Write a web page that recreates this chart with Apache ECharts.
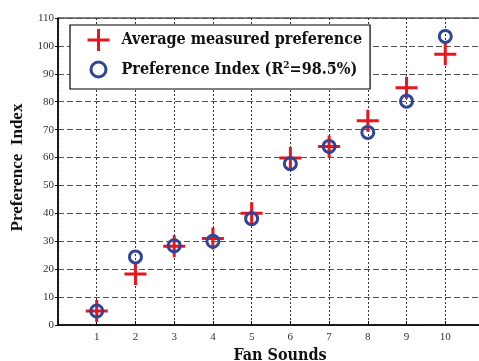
<!DOCTYPE html>
<html>
<head>
<meta charset="utf-8">
<script src="https://cdn.jsdelivr.net/npm/echarts@6/dist/echarts.min.js"></script>
<style>
  html, body { margin: 0; padding: 0; background: #fff; }
  #chart { width: 479px; height: 361px; }
</style>
</head>
<body>
<div id="chart"></div>
<script>
// Fan sounds 1..10
const fanSounds = [1, 2, 3, 4, 5, 6, 7, 8, 9, 10];
// Average measured preference per sound
const measured = [5, 18.3, 28.2, 31, 40, 59.8, 64, 73.2, 85, 97];
// Modelled preference index per sound
const prefIndex = [5, 24.4, 28.4, 30, 38.1, 57.8, 64, 69, 80.2, 103.4];
const yTicks = [0, 10, 20, 30, 40, 50, 60, 70, 80, 90, 100, 110];

const RED = '#E8141E';
const BLUE = '#2F4596';
const PLUS = 'path://M9.5 0H12.5V9.5H22V12.5H12.5V22H9.5V12.5H0V9.5H9.5Z';
// ring for the legend, padded to a 22x22 box by two invisible corner specks
const RING = 'path://M0 0L0 0.01M22 22L22 21.99M11 3.5A7.5 7.5 0 1 1 10.99 3.5Z';
const SERIF = '"Liberation Serif", "DejaVu Serif", serif';
const SERIF_WIDE = '"DejaVu Serif Condensed", "DejaVu Serif", serif';

const chart = echarts.init(document.getElementById('chart'));

chart.setOption({
  animation: false,
  backgroundColor: '#fff',
  grid: {
    left: 58, top: 18, bottom: 36, right: -5,
    outerBoundsMode: 'none', containLabel: false,
    show: true, borderColor: '#000', borderWidth: 1, backgroundColor: 'transparent'
  },
  xAxis: {
    type: 'value', min: 0, max: 11, interval: 1,
    name: 'Fan Sounds', nameLocation: 'middle', nameGap: 19,
    nameTextStyle: { fontFamily: SERIF_WIDE, fontWeight: 'bold', fontSize: 16, color: '#111', padding: [0, 0, 0, 18] },
    axisLine: { lineStyle: { color: '#000', width: 1.5 } },
    axisTick: { inside: true, length: 4, lineStyle: { color: '#000' } },
    axisLabel: {
      fontFamily: SERIF, fontSize: 11, color: '#333', margin: 7,
      formatter: v => fanSounds.includes(v) ? String(v) : ''
    },
    splitLine: { show: true, lineStyle: { color: '#333', type: [2, 2], width: 1 } }
  },
  yAxis: {
    type: 'value', min: 0, max: 110, interval: 10,
    name: 'Preference  Index', nameLocation: 'middle', nameGap: 32, nameRotate: 90,
    nameTextStyle: { fontFamily: SERIF, fontWeight: 'bold', fontSize: 17, color: '#111', padding: [0, 0, 0, 8] },
    axisLine: { show: true, lineStyle: { color: '#000', width: 1.5 } },
    axisTick: { show: true, inside: false, length: 3, lineStyle: { color: '#000' } },
    axisLabel: {
      fontFamily: SERIF, fontSize: 11, color: '#333', margin: 4,
      formatter: v => yTicks.includes(v) ? String(v) : ''
    },
    splitLine: { show: true, lineStyle: { color: '#555', type: [6, 3], width: 1 } }
  },
  legend: {
    orient: 'vertical', left: 70, top: 25,
    padding: [4, 8, 7, 16],
    itemWidth: 22, itemHeight: 22, itemGap: 6,
    backgroundColor: '#fff', borderColor: '#000', borderWidth: 1.2, borderRadius: 0,
    textStyle: {
      fontFamily: SERIF_WIDE, fontWeight: 'bold', fontSize: 16, color: '#111', padding: [0, 0, 0, 7],
      rich: {
        b: { fontFamily: SERIF_WIDE, fontWeight: 'bold', fontSize: 16, color: '#111' },
        s: { fontFamily: SERIF_WIDE, fontWeight: 'bold', fontSize: 10, color: '#111', padding: [0, 0, 8, 0] }
      }
    },
    formatter: name => name === 'Preference Index'
      ? '{b|Preference Index (R}{s|2}{b|=98.5%)}'
      : name,
    data: [
      { name: 'Average measured preference', icon: PLUS, itemStyle: { color: RED } },
      { name: 'Preference Index', icon: RING, itemStyle: { color: 'rgba(0,0,0,0)', borderColor: BLUE, borderWidth: 3 } }
    ]
  },
  series: [
    {
      name: 'Average measured preference', type: 'scatter',
      symbol: PLUS, symbolSize: 22,
      itemStyle: { color: RED, opacity: 1 },
      data: fanSounds.map((x, i) => [x, measured[i]]),
      z: 3
    },
    {
      name: 'Preference Index', type: 'scatter',
      symbol: 'circle', symbolSize: 12,
      itemStyle: { color: 'rgba(0,0,0,0)', borderColor: BLUE, borderWidth: 3, opacity: 1 },
      data: fanSounds.map((x, i) => [x, prefIndex[i]]),
      z: 4
    }
  ]
});
</script>
</body>
</html>
